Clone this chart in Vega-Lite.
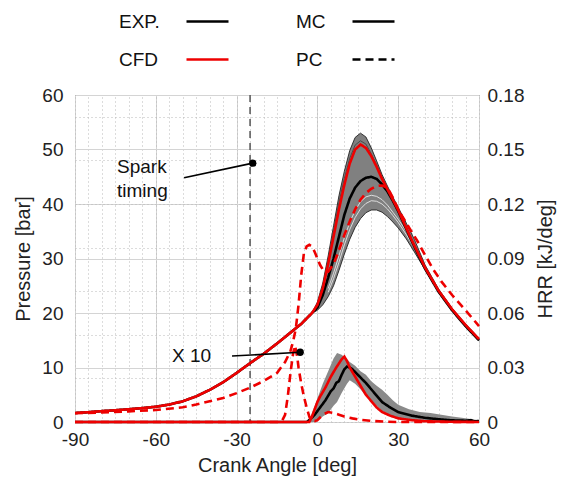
{
  "$schema": "https://vega.github.io/schema/vega-lite/v6.json",
  "width": 404,
  "height": 327,
  "autosize": {"type": "none"},
  "padding": {"left": 75, "top": 95, "right": 86, "bottom": 61},
  "background": "white",
  "datasets": {
    "P": [
      {"a":-90,"p":1.65,"s":"EXP.","c":"MC"},{"a":-85,"p":1.8,"s":"EXP.","c":"MC"},{"a":-80,"p":2.0,"s":"EXP.","c":"MC"},{"a":-75,"p":2.15,"s":"EXP.","c":"MC"},{"a":-70,"p":2.35,"s":"EXP.","c":"MC"},{"a":-65,"p":2.55,"s":"EXP.","c":"MC"},{"a":-60,"p":2.8,"s":"EXP.","c":"MC"},{"a":-55,"p":3.2,"s":"EXP.","c":"MC"},{"a":-50,"p":3.8,"s":"EXP.","c":"MC"},{"a":-45,"p":4.7,"s":"EXP.","c":"MC"},{"a":-40,"p":5.9,"s":"EXP.","c":"MC"},{"a":-35,"p":7.3,"s":"EXP.","c":"MC"},{"a":-30,"p":9.0,"s":"EXP.","c":"MC"},{"a":-25,"p":10.8,"s":"EXP.","c":"MC"},{"a":-20,"p":12.5,"s":"EXP.","c":"MC"},{"a":-15,"p":14.4,"s":"EXP.","c":"MC"},{"a":-10,"p":16.4,"s":"EXP.","c":"MC"},{"a":-6,"p":18.0,"s":"EXP.","c":"MC"},{"a":-4,"p":19.0,"s":"EXP.","c":"MC"},{"a":-2,"p":20.0,"s":"EXP.","c":"MC"},{"a":0,"p":21.0,"s":"EXP.","c":"MC"},{"a":2,"p":23.3,"s":"EXP.","c":"MC"},{"a":4,"p":26.5,"s":"EXP.","c":"MC"},{"a":6,"p":30.0,"s":"EXP.","c":"MC"},{"a":8,"p":34.0,"s":"EXP.","c":"MC"},{"a":10,"p":38.0,"s":"EXP.","c":"MC"},{"a":12,"p":41.0,"s":"EXP.","c":"MC"},{"a":14,"p":43.0,"s":"EXP.","c":"MC"},{"a":16,"p":44.2,"s":"EXP.","c":"MC"},{"a":18,"p":44.8,"s":"EXP.","c":"MC"},{"a":20,"p":45.0,"s":"EXP.","c":"MC"},{"a":22,"p":44.6,"s":"EXP.","c":"MC"},{"a":24,"p":43.6,"s":"EXP.","c":"MC"},{"a":26,"p":42.3,"s":"EXP.","c":"MC"},{"a":28,"p":40.6,"s":"EXP.","c":"MC"},{"a":30,"p":38.7,"s":"EXP.","c":"MC"},{"a":35,"p":33.2,"s":"EXP.","c":"MC"},{"a":40,"p":28.1,"s":"EXP.","c":"MC"},{"a":45,"p":23.9,"s":"EXP.","c":"MC"},{"a":50,"p":20.5,"s":"EXP.","c":"MC"},{"a":55,"p":17.6,"s":"EXP.","c":"MC"},{"a":60,"p":15.0,"s":"EXP.","c":"MC"},
      {"a":-90,"p":1.65,"s":"CFD","c":"MC"},{"a":-85,"p":1.8,"s":"CFD","c":"MC"},{"a":-80,"p":2.0,"s":"CFD","c":"MC"},{"a":-75,"p":2.15,"s":"CFD","c":"MC"},{"a":-70,"p":2.35,"s":"CFD","c":"MC"},{"a":-65,"p":2.55,"s":"CFD","c":"MC"},{"a":-60,"p":2.8,"s":"CFD","c":"MC"},{"a":-55,"p":3.2,"s":"CFD","c":"MC"},{"a":-50,"p":3.8,"s":"CFD","c":"MC"},{"a":-45,"p":4.7,"s":"CFD","c":"MC"},{"a":-40,"p":5.9,"s":"CFD","c":"MC"},{"a":-35,"p":7.3,"s":"CFD","c":"MC"},{"a":-30,"p":9.0,"s":"CFD","c":"MC"},{"a":-25,"p":10.8,"s":"CFD","c":"MC"},{"a":-20,"p":12.5,"s":"CFD","c":"MC"},{"a":-15,"p":14.4,"s":"CFD","c":"MC"},{"a":-10,"p":16.4,"s":"CFD","c":"MC"},{"a":-6,"p":18.0,"s":"CFD","c":"MC"},{"a":-4,"p":19.0,"s":"CFD","c":"MC"},{"a":-2,"p":20.0,"s":"CFD","c":"MC"},{"a":0,"p":21.5,"s":"CFD","c":"MC"},{"a":2,"p":24.5,"s":"CFD","c":"MC"},{"a":4,"p":29.0,"s":"CFD","c":"MC"},{"a":6,"p":34.0,"s":"CFD","c":"MC"},{"a":8,"p":39.0,"s":"CFD","c":"MC"},{"a":10,"p":43.5,"s":"CFD","c":"MC"},{"a":12,"p":47.4,"s":"CFD","c":"MC"},{"a":14,"p":50.0,"s":"CFD","c":"MC"},{"a":16,"p":50.9,"s":"CFD","c":"MC"},{"a":18,"p":50.3,"s":"CFD","c":"MC"},{"a":20,"p":48.8,"s":"CFD","c":"MC"},{"a":22,"p":46.8,"s":"CFD","c":"MC"},{"a":24,"p":44.6,"s":"CFD","c":"MC"},{"a":26,"p":42.7,"s":"CFD","c":"MC"},{"a":28,"p":40.8,"s":"CFD","c":"MC"},{"a":30,"p":38.9,"s":"CFD","c":"MC"},{"a":35,"p":33.4,"s":"CFD","c":"MC"},{"a":40,"p":28.3,"s":"CFD","c":"MC"},{"a":45,"p":24.1,"s":"CFD","c":"MC"},{"a":50,"p":20.7,"s":"CFD","c":"MC"},{"a":55,"p":17.8,"s":"CFD","c":"MC"},{"a":60,"p":15.2,"s":"CFD","c":"MC"},
      {"a":-90,"p":1.6,"s":"CFD","c":"PC"},{"a":-80,"p":1.75,"s":"CFD","c":"PC"},{"a":-70,"p":1.95,"s":"CFD","c":"PC"},{"a":-60,"p":2.2,"s":"CFD","c":"PC"},{"a":-50,"p":2.7,"s":"CFD","c":"PC"},{"a":-45,"p":3.2,"s":"CFD","c":"PC"},{"a":-40,"p":3.8,"s":"CFD","c":"PC"},{"a":-35,"p":4.4,"s":"CFD","c":"PC"},{"a":-30,"p":5.3,"s":"CFD","c":"PC"},{"a":-25,"p":6.3,"s":"CFD","c":"PC"},{"a":-20,"p":7.5,"s":"CFD","c":"PC"},{"a":-15,"p":9.0,"s":"CFD","c":"PC"},{"a":-12,"p":11.0,"s":"CFD","c":"PC"},{"a":-10,"p":13.0,"s":"CFD","c":"PC"},{"a":-9,"p":14.8,"s":"CFD","c":"PC"},{"a":-8,"p":17.2,"s":"CFD","c":"PC"},{"a":-7,"p":21.5,"s":"CFD","c":"PC"},{"a":-6,"p":27.0,"s":"CFD","c":"PC"},{"a":-5,"p":31.0,"s":"CFD","c":"PC"},{"a":-4,"p":32.2,"s":"CFD","c":"PC"},{"a":-3,"p":32.5,"s":"CFD","c":"PC"},{"a":-2,"p":32.2,"s":"CFD","c":"PC"},{"a":-1,"p":31.2,"s":"CFD","c":"PC"},{"a":0,"p":30.0,"s":"CFD","c":"PC"},{"a":1,"p":28.8,"s":"CFD","c":"PC"},{"a":2,"p":28.0,"s":"CFD","c":"PC"},{"a":4,"p":27.6,"s":"CFD","c":"PC"},{"a":6,"p":29.0,"s":"CFD","c":"PC"},{"a":8,"p":31.5,"s":"CFD","c":"PC"},{"a":10,"p":34.3,"s":"CFD","c":"PC"},{"a":12,"p":36.8,"s":"CFD","c":"PC"},{"a":14,"p":39.0,"s":"CFD","c":"PC"},{"a":16,"p":40.8,"s":"CFD","c":"PC"},{"a":18,"p":42.0,"s":"CFD","c":"PC"},{"a":20,"p":42.8,"s":"CFD","c":"PC"},{"a":22,"p":43.3,"s":"CFD","c":"PC"},{"a":24,"p":43.4,"s":"CFD","c":"PC"},{"a":26,"p":43.0,"s":"CFD","c":"PC"},{"a":28,"p":41.2,"s":"CFD","c":"PC"},{"a":30,"p":39.0,"s":"CFD","c":"PC"},{"a":33,"p":36.5,"s":"CFD","c":"PC"},{"a":37,"p":33.3,"s":"CFD","c":"PC"},{"a":40,"p":30.6,"s":"CFD","c":"PC"},{"a":43,"p":28.0,"s":"CFD","c":"PC"},{"a":46,"p":25.8,"s":"CFD","c":"PC"},{"a":50,"p":23.3,"s":"CFD","c":"PC"},{"a":55,"p":20.5,"s":"CFD","c":"PC"},{"a":60,"p":17.6,"s":"CFD","c":"PC"}
    ],
    "PB": [
      {"a":-4,"lo":19.0,"hi":19.0},{"a":-2,"lo":20.0,"hi":20.0},{"a":0,"lo":20.5,"hi":22.0},{"a":2,"lo":21.5,"hi":25.5},{"a":4,"lo":23.0,"hi":30.5},{"a":6,"lo":25.0,"hi":36.0},{"a":8,"lo":27.8,"hi":41.5},{"a":10,"lo":30.8,"hi":46.0},{"a":12,"lo":33.5,"hi":49.8},{"a":14,"lo":35.7,"hi":52.2},{"a":16,"lo":37.3,"hi":53.0},{"a":18,"lo":38.4,"hi":52.3},{"a":20,"lo":38.9,"hi":50.3},{"a":22,"lo":38.9,"hi":47.9},{"a":24,"lo":38.5,"hi":45.4},{"a":26,"lo":37.7,"hi":43.3},{"a":28,"lo":36.7,"hi":41.3},{"a":30,"lo":35.6,"hi":39.4},{"a":33,"lo":33.6,"hi":36.5},{"a":36,"lo":31.2,"hi":33.5},{"a":40,"lo":27.9,"hi":28.8},{"a":45,"lo":23.8,"hi":24.4},{"a":50,"lo":20.4,"hi":20.9},{"a":55,"lo":17.5,"hi":18.0},{"a":60,"lo":14.9,"hi":15.4}
    ],
    "PL": [
      {"a":4,"p":23.8,"k":"1"},{"a":6,"p":26.3,"k":"1"},{"a":8,"p":29.3,"k":"1"},{"a":10,"p":32.5,"k":"1"},{"a":12,"p":35.3,"k":"1"},{"a":14,"p":37.5,"k":"1"},{"a":16,"p":39.1,"k":"1"},{"a":18,"p":40.1,"k":"1"},{"a":20,"p":40.6,"k":"1"},{"a":22,"p":40.5,"k":"1"},{"a":24,"p":40.0,"k":"1"},{"a":26,"p":39.1,"k":"1"},{"a":28,"p":37.9,"k":"1"},{"a":30,"p":36.6,"k":"1"},{"a":33,"p":34.4,"k":"1"},{"a":36,"p":31.9,"k":"1"},
      {"a":4,"p":24.5,"k":"2"},{"a":6,"p":27.3,"k":"2"},{"a":8,"p":30.5,"k":"2"},{"a":10,"p":33.8,"k":"2"},{"a":12,"p":36.6,"k":"2"},{"a":14,"p":38.8,"k":"2"},{"a":16,"p":40.4,"k":"2"},{"a":18,"p":41.3,"k":"2"},{"a":20,"p":41.6,"k":"2"},{"a":22,"p":41.4,"k":"2"},{"a":24,"p":40.8,"k":"2"},{"a":26,"p":39.8,"k":"2"},{"a":28,"p":38.5,"k":"2"},{"a":30,"p":37.2,"k":"2"},{"a":33,"p":35.0,"k":"2"},{"a":36,"p":32.5,"k":"2"}
    ],
    "PD": [
      {"a":0,"p":21.7,"k":"3"},{"a":2,"p":25.0,"k":"3"},{"a":4,"p":29.8,"k":"3"},{"a":6,"p":35.0,"k":"3"},{"a":8,"p":40.3,"k":"3"},{"a":10,"p":44.7,"k":"3"},{"a":12,"p":48.4,"k":"3"},{"a":14,"p":50.8,"k":"3"},{"a":16,"p":51.6,"k":"3"},{"a":18,"p":51.0,"k":"3"},{"a":20,"p":49.2,"k":"3"},{"a":22,"p":47.2,"k":"3"},{"a":24,"p":45.0,"k":"3"},{"a":26,"p":43.0,"k":"3"},{"a":28,"p":41.1,"k":"3"},{"a":30,"p":39.3,"k":"3"}
    ],
    "H": [
      {"a":-90,"h":0,"s":"EXP.","c":"MC"},{"a":-4,"h":0,"s":"EXP.","c":"MC"},{"a":-3,"h":0.001,"s":"EXP.","c":"MC"},{"a":-1,"h":0.004,"s":"EXP.","c":"MC"},{"a":1,"h":0.008,"s":"EXP.","c":"MC"},{"a":3,"h":0.012,"s":"EXP.","c":"MC"},{"a":5,"h":0.017,"s":"EXP.","c":"MC"},{"a":6,"h":0.0185,"s":"EXP.","c":"MC"},{"a":7,"h":0.0215,"s":"EXP.","c":"MC"},{"a":8,"h":0.0225,"s":"EXP.","c":"MC"},{"a":9,"h":0.026,"s":"EXP.","c":"MC"},{"a":10,"h":0.029,"s":"EXP.","c":"MC"},{"a":11,"h":0.0305,"s":"EXP.","c":"MC"},{"a":12,"h":0.030,"s":"EXP.","c":"MC"},{"a":13,"h":0.029,"s":"EXP.","c":"MC"},{"a":15,"h":0.026,"s":"EXP.","c":"MC"},{"a":18,"h":0.0215,"s":"EXP.","c":"MC"},{"a":20,"h":0.018,"s":"EXP.","c":"MC"},{"a":22,"h":0.0145,"s":"EXP.","c":"MC"},{"a":24,"h":0.011,"s":"EXP.","c":"MC"},{"a":27,"h":0.008,"s":"EXP.","c":"MC"},{"a":30,"h":0.0055,"s":"EXP.","c":"MC"},{"a":35,"h":0.0035,"s":"EXP.","c":"MC"},{"a":40,"h":0.0023,"s":"EXP.","c":"MC"},{"a":45,"h":0.0015,"s":"EXP.","c":"MC"},{"a":50,"h":0.0009,"s":"EXP.","c":"MC"},{"a":55,"h":0.0007,"s":"EXP.","c":"MC"},{"a":57,"h":0.001,"s":"EXP.","c":"MC"},{"a":58,"h":0.0004,"s":"EXP.","c":"MC"},{"a":60,"h":0.0005,"s":"EXP.","c":"MC"},
      {"a":-90,"h":0,"s":"CFD","c":"MC"},{"a":-3,"h":0,"s":"CFD","c":"MC"},{"a":-2,"h":0.003,"s":"CFD","c":"MC"},{"a":-1,"h":0.007,"s":"CFD","c":"MC"},{"a":0,"h":0.011,"s":"CFD","c":"MC"},{"a":1,"h":0.014,"s":"CFD","c":"MC"},{"a":3,"h":0.019,"s":"CFD","c":"MC"},{"a":5,"h":0.025,"s":"CFD","c":"MC"},{"a":7,"h":0.030,"s":"CFD","c":"MC"},{"a":9,"h":0.0345,"s":"CFD","c":"MC"},{"a":10,"h":0.036,"s":"CFD","c":"MC"},{"a":11,"h":0.0335,"s":"CFD","c":"MC"},{"a":12,"h":0.030,"s":"CFD","c":"MC"},{"a":13,"h":0.0275,"s":"CFD","c":"MC"},{"a":15,"h":0.0225,"s":"CFD","c":"MC"},{"a":18,"h":0.015,"s":"CFD","c":"MC"},{"a":20,"h":0.0115,"s":"CFD","c":"MC"},{"a":22,"h":0.008,"s":"CFD","c":"MC"},{"a":24,"h":0.0055,"s":"CFD","c":"MC"},{"a":27,"h":0.0035,"s":"CFD","c":"MC"},{"a":30,"h":0.002,"s":"CFD","c":"MC"},{"a":35,"h":0.001,"s":"CFD","c":"MC"},{"a":40,"h":0.0004,"s":"CFD","c":"MC"},{"a":50,"h":0.0001,"s":"CFD","c":"MC"},{"a":60,"h":0,"s":"CFD","c":"MC"},
      {"a":-90,"h":0,"s":"CFD","c":"PC"},{"a":-14,"h":0,"s":"CFD","c":"PC"},{"a":-13,"h":0.001,"s":"CFD","c":"PC"},{"a":-12,"h":0.004,"s":"CFD","c":"PC"},{"a":-11,"h":0.014,"s":"CFD","c":"PC"},{"a":-10,"h":0.027,"s":"CFD","c":"PC"},{"a":-9,"h":0.038,"s":"CFD","c":"PC"},{"a":-8.3,"h":0.042,"s":"CFD","c":"PC"},{"a":-7.5,"h":0.036,"s":"CFD","c":"PC"},{"a":-7,"h":0.030,"s":"CFD","c":"PC"},{"a":-6,"h":0.021,"s":"CFD","c":"PC"},{"a":-5,"h":0.014,"s":"CFD","c":"PC"},{"a":-4,"h":0.008,"s":"CFD","c":"PC"},{"a":-3,"h":0.003,"s":"CFD","c":"PC"},{"a":-2.4,"h":0.0008,"s":"CFD","c":"PC"},{"a":-1,"h":0.0005,"s":"CFD","c":"PC"},{"a":0,"h":0.001,"s":"CFD","c":"PC"},{"a":2,"h":0.004,"s":"CFD","c":"PC"},{"a":4,"h":0.0055,"s":"CFD","c":"PC"},{"a":6,"h":0.005,"s":"CFD","c":"PC"},{"a":8,"h":0.004,"s":"CFD","c":"PC"},{"a":10,"h":0.003,"s":"CFD","c":"PC"},{"a":13,"h":0.002,"s":"CFD","c":"PC"},{"a":16,"h":0.0012,"s":"CFD","c":"PC"},{"a":20,"h":0.0006,"s":"CFD","c":"PC"},{"a":25,"h":0.0002,"s":"CFD","c":"PC"},{"a":30,"h":0,"s":"CFD","c":"PC"},{"a":60,"h":0,"s":"CFD","c":"PC"}
    ],
    "HB": [
      {"a":-4,"lo":0,"hi":0},{"a":-3,"lo":0,"hi":0.001},{"a":-2,"lo":0,"hi":0.005},{"a":-1,"lo":0,"hi":0.009},{"a":0,"lo":0.001,"hi":0.013},{"a":2,"lo":0.003,"hi":0.021},{"a":4,"lo":0.005,"hi":0.028},{"a":6,"lo":0.009,"hi":0.035},{"a":7.3,"lo":0.011,"hi":0.038},{"a":9,"lo":0.016,"hi":0.037},{"a":11,"lo":0.021,"hi":0.0345},{"a":12,"lo":0.023,"hi":0.033},{"a":14,"lo":0.021,"hi":0.031},{"a":16,"lo":0.018,"hi":0.028},{"a":18,"lo":0.0145,"hi":0.026},{"a":20,"lo":0.012,"hi":0.0225},{"a":22,"lo":0.009,"hi":0.020},{"a":24,"lo":0.006,"hi":0.0178},{"a":26,"lo":0.0045,"hi":0.015},{"a":28,"lo":0.003,"hi":0.012},{"a":30,"lo":0.002,"hi":0.0095},{"a":34,"lo":0.001,"hi":0.007},{"a":38,"lo":0.0003,"hi":0.0055},{"a":42,"lo":0,"hi":0.005},{"a":50,"lo":0,"hi":0.003},{"a":55,"lo":0,"hi":0.002},{"a":60,"lo":0,"hi":0.001}
    ],
    "spark": [{"a": -25}],
    "annl": [{"a":-49.5,"p":44.8,"a2":-24,"p2":47.5},{"a":-31.7,"p":12.1,"a2":-6.4,"p2":12.8}],
    "annp": [{"a":-24,"p":47.5},{"a":-6.4,"p":12.8}],
    "annt": [{"a":-74.4,"p":45.7,"t":"Spark"},{"a":-74.4,"p":41.3,"t":"timing"},{"a":-54,"p":11.0,"t":"X 10"}]
  },
  "layer": [
    {
      "encoding": {
        "x": {"field": "a", "type": "quantitative", "scale": {"domain": [-90, 60], "nice": false, "zero": false},
          "axis": {"orient": "bottom", "values": [-90,-60,-30,0,30,60], "labelExpr": "'' + datum.value", "grid": true, "gridColor": "#d4d4d4", "domain": false, "ticks": false, "labelFontSize": 19, "labelColor": "#222", "labelPadding": 8, "labelFlush": false, "title": "Crank Angle [deg]", "titleFontSize": 20, "titleFontWeight": "normal", "titleColor": "#222", "titlePadding": 6}}
      },
      "layer": [
        {
          "data": {"name": "PB"},
          "mark": {"type": "area", "color": "#808080", "opacity": 1},
          "encoding": {
            "y": {"field": "lo", "type": "quantitative", "scale": {"domain": [0, 60], "nice": false},
              "axis": {"orient": "left", "values": [0,10,20,30,40,50,60], "grid": true, "gridColor": "#d4d4d4", "domain": false, "ticks": false, "labelFontSize": 19, "labelColor": "#222", "labelPadding": 12, "labelFlush": false, "title": "Pressure [bar]", "titleFontSize": 20, "titleFontWeight": "normal", "titleColor": "#222", "titlePadding": 8}},
            "y2": {"field": "hi"}
          }
        },
        {
          "data": {"name": "spark"},
          "mark": {"type": "rule", "color": "#555555", "strokeWidth": 1.5, "strokeDash": [7, 5]},
          "encoding": {}
        },
        {
          "data": {"name": "PB"},
          "mark": {"type": "line", "color": "#222222", "strokeWidth": 0.9},
          "encoding": {"y": {"field": "hi", "type": "quantitative"}}
        },
        {
          "data": {"name": "PB"},
          "mark": {"type": "line", "color": "#222222", "strokeWidth": 0.9},
          "encoding": {"y": {"field": "lo", "type": "quantitative"}}
        },
        {
          "data": {"name": "PL"},
          "mark": {"type": "line", "color": "#e6e6e6", "strokeWidth": 0.9},
          "encoding": {"y": {"field": "p", "type": "quantitative"}, "detail": {"field": "k"}}
        },
        {
          "data": {"name": "PD"},
          "mark": {"type": "line", "color": "#444444", "strokeWidth": 0.9},
          "encoding": {"y": {"field": "p", "type": "quantitative"}, "detail": {"field": "k"}}
        },
        {
          "data": {"name": "P"},
          "mark": {"type": "line", "strokeWidth": 2.6},
          "encoding": {
            "y": {"field": "p", "type": "quantitative"},
            "color": {"field": "s", "type": "nominal", "scale": {"domain": ["EXP.", "CFD"], "range": ["#000000", "#ee0000"]},
              "legend": {"orient": "none", "legendX": 110, "legendY": -96, "title": null, "symbolType": "stroke", "symbolSize": 1764, "symbolStrokeWidth": 2.5, "labelFontSize": 19, "labelColor": "#111", "labelOffset": -111, "rowPadding": 5}},
            "strokeDash": {"field": "c", "type": "nominal", "scale": {"domain": ["MC", "PC"], "range": [[1, 0], [8, 5]]},
              "legend": {"orient": "none", "legendX": 276, "legendY": -96, "title": null, "symbolType": "stroke", "symbolSize": 1764, "symbolStrokeWidth": 2.5, "symbolStrokeColor": "#000000", "labelFontSize": 19, "labelColor": "#111", "labelOffset": -100, "rowPadding": 5}},
            "order": {"field": "s", "sort": "descending"}
          }
        }
      ]
    },
    {
      "encoding": {
        "x": {"field": "a", "type": "quantitative", "scale": {"domain": [-90, 60], "nice": false, "zero": false},
          "axis": {"orient": "top", "values": [-90,-85,-80,-75,-70,-65,-60,-55,-50,-45,-40,-35,-30,-25,-20,-15,-10,-5,0,5,10,15,20,25,30,35,40,45,50,55,60], "grid": true, "gridColor": "#b8b8b8", "gridDash": [1, 3], "domain": false, "ticks": false, "labels": false, "title": null}}
      },
      "layer": [
        {
          "data": {"name": "HB"},
          "mark": {"type": "area", "color": "#8a8a8a", "opacity": 1},
          "encoding": {
            "y": {"field": "lo", "type": "quantitative", "scale": {"domain": [0, 0.18], "nice": false},
              "axis": {"orient": "right", "values": [0,0.03,0.06,0.09,0.12,0.15,0.18], "grid": false, "domain": false, "ticks": false, "labelFontSize": 19, "labelColor": "#222", "labelPadding": 8, "labelFlush": false, "labelExpr": "datum.value == 0 ? '0' : format(datum.value, '.2f')", "title": "HRR [kJ/deg]", "titleFontSize": 20, "titleFontWeight": "normal", "titleColor": "#222", "titlePadding": 12, "titleAngle": 270, "titleBaseline": "top"}},
            "y2": {"field": "hi"}
          }
        },
        {
          "data": {"name": "H"},
          "mark": {"type": "line", "strokeWidth": 2.6},
          "encoding": {
            "y": {"field": "h", "type": "quantitative"},
            "color": {"field": "s", "type": "nominal"},
            "strokeDash": {"field": "c", "type": "nominal"},
            "order": {"field": "s", "sort": "descending"}
          }
        }
      ]
    },
    {
      "encoding": {
        "x": {"field": "a", "type": "quantitative", "scale": {"domain": [-90, 60], "nice": false, "zero": false}, "axis": null}
      },
      "layer": [
        {
          "data": {"name": "annl"},
          "mark": {"type": "rule", "color": "#000000", "strokeWidth": 1.6},
          "encoding": {
            "y": {"field": "p", "type": "quantitative", "scale": {"domain": [0, 60], "nice": false},
              "axis": {"orient": "left", "values": [0,2,4,6,8,10,12,14,16,18,20,22,24,26,28,30,32,34,36,38,40,42,44,46,48,50,52,54,56,58,60], "grid": true, "gridColor": "#b8b8b8", "gridDash": [1, 3], "domain": false, "ticks": false, "labels": false, "title": null}},
            "x2": {"field": "a2"}, "y2": {"field": "p2"}}
        },
        {
          "data": {"name": "annp"},
          "mark": {"type": "circle", "color": "#000000", "size": 55, "opacity": 1},
          "encoding": {"y": {"field": "p", "type": "quantitative"}}
        },
        {
          "data": {"name": "annt"},
          "mark": {"type": "text", "align": "left", "baseline": "alphabetic", "fontSize": 19, "color": "#111"},
          "encoding": {"y": {"field": "p", "type": "quantitative"}, "text": {"field": "t"}}
        }
      ]
    }
  ],
  "resolve": {"scale": {"x": "independent", "y": "independent"}},
  "config": {
    "font": "Liberation Sans",
    "view": {"stroke": "#444444", "strokeWidth": 1},
    "legend": {"labelFont": "Liberation Sans"}
  }
}
